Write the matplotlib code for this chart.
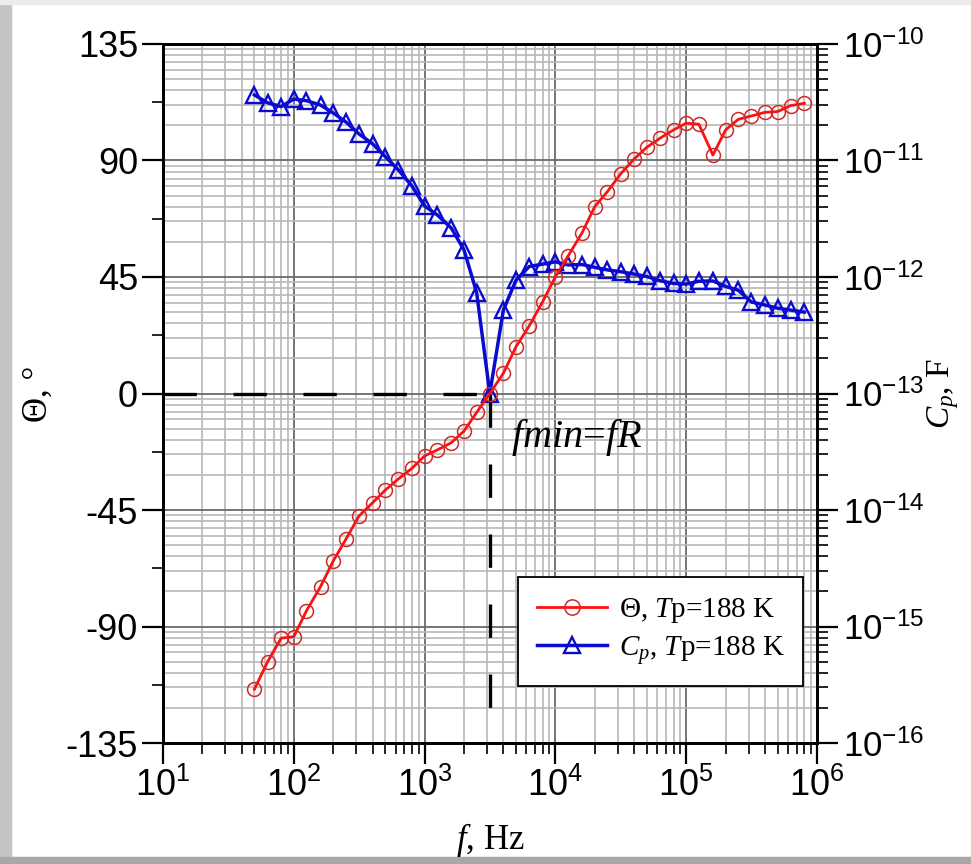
import numpy as np
import matplotlib
matplotlib.use("Agg")
import matplotlib.pyplot as plt
from matplotlib.ticker import LogLocator, MultipleLocator, FixedLocator, NullFormatter, FuncFormatter
from matplotlib.lines import Line2D
from matplotlib.patches import Rectangle

# data
freq = [50, 63, 80, 100, 125, 160, 200, 250, 315, 400, 500, 630, 800,
        1000, 1250, 1600, 2000, 2500, 3150, 4000, 5000, 6300, 8000,
        1e4, 12500, 16000, 20000, 25000, 31500, 40000, 50000, 63000, 80000,
        1e5, 125e3, 160e3, 200e3, 250e3, 315e3, 400e3, 500e3, 630e3, 800e3]
theta = [-114.2, -103.6, -94.5, -93.9, -83.9, -74.6, -64.7, -56.3, -47.3, -42.2,
         -37.3, -33.0, -28.9, -24.1, -21.8, -19.0, -14.5, -7.3, 0.0, 7.8,
         18.1, 26.1, 35.5, 45.1, 53.1, 62.1, 72.2, 78.0, 84.8, 90.6,
         95.1, 98.6, 101.8, 104.4, 104.0, 92.1, 101.8, 105.9, 107.2, 108.6,
         108.9, 111.2, 112.1]
cp = [3.65e-11, 3.13e-11, 2.9e-11, 3.37e-11, 3.26e-11, 2.99e-11, 2.56e-11, 2.14e-11,
      1.69e-11, 1.39e-11, 1.08e-11, 8.3e-12, 6.04e-12, 4.07e-12, 3.41e-12, 2.63e-12,
      1.71e-12, 7.34e-13, 1.0e-13, 5.2e-13, 9.4e-13, 1.23e-12, 1.29e-12, 1.35e-12,
      1.27e-12, 1.28e-12, 1.21e-12, 1.15e-12, 1.11e-12, 1.06e-12, 1.01e-12, 9.3e-13,
      8.8e-13, 8.7e-13, 9.2e-13, 9.25e-13, 8.3e-13, 7.7e-13, 6.1e-13, 5.75e-13,
      5.4e-13, 5.2e-13, 5.0e-13]
f_res = 3150

theta_ticks = [-135, -90, -45, 0, 45, 90, 135]

plt.rcParams['mathtext.fontset'] = 'custom'
plt.rcParams['mathtext.rm'] = 'Liberation Serif'
plt.rcParams['mathtext.it'] = 'Liberation Serif:italic'
plt.rcParams['font.family'] = 'Liberation Sans'
plt.rcParams['axes.unicode_minus'] = False

fig = plt.figure(figsize=(9.71, 8.64), dpi=100)
ax2 = fig.add_axes([0.1679, 0.1400, 0.6735, 0.8091])
ax = ax2.twinx()
# ax (theta, left) drawn on top of ax2 (Cp, right, holds the grid)
ax.yaxis.tick_left()
ax.yaxis.set_label_position('left')
ax2.yaxis.tick_right()
ax2.yaxis.set_label_position('right')
ax.set_zorder(ax2.get_zorder() + 1)
ax.patch.set_visible(False)

ax2.set_xscale('log')
ax2.set_xlim(10, 1e6)
ax2.set_yscale('log')
ax2.set_ylim(1e-16, 1e-10)
ax.set_ylim(-135, 135)

# grid on the bottom axes
ax2.xaxis.set_major_locator(LogLocator(base=10, numticks=10))
ax2.xaxis.set_minor_locator(LogLocator(base=10, subs=np.arange(2, 10), numticks=20))
ax2.yaxis.set_major_locator(LogLocator(base=10, numticks=10))
ax2.yaxis.set_minor_locator(LogLocator(base=10, subs=np.arange(2, 10), numticks=20))
ax2.grid(which='minor', color='#b8b8b8', lw=1.2)
ax2.grid(which='major', color='#6a6a6a', lw=1.3)

fmt = FuncFormatter(lambda v, p: r'$\mathregular{10^{%d}}$' % round(np.log10(v)))
ax2.xaxis.set_major_formatter(fmt)
ax2.yaxis.set_major_formatter(fmt)
ax2.xaxis.set_minor_formatter(NullFormatter())
ax2.yaxis.set_minor_formatter(NullFormatter())
ax.yaxis.set_major_locator(FixedLocator(theta_ticks))
ax.yaxis.set_minor_locator(MultipleLocator(22.5))

for a in (ax, ax2):
    a.tick_params(which='major', direction='out', length=15, width=1.6,
                  labelsize=26, pad=3)
    a.tick_params(which='minor', direction='out', length=8, width=1.2)
    for s in a.spines.values():
        s.set_linewidth(2)
        s.set_color('black')
ax2.tick_params(axis='x', which='both', top=False)
ax.tick_params(axis='x', which='both', bottom=False, top=False, labelbottom=False)
ax2.tick_params(axis='y', which='major', labelsize=25, pad=4)

# curves
ax2.plot(freq, cp, color='#0b0bd0', lw=2.5, marker='^', ms=11, mfc='none',
         mec='#0b0bd0', mew=1.7, zorder=3)
ax.plot([10, f_res], [0, 0], color='black', lw=2.4, dashes=(10, 11), zorder=2)
ax.plot([f_res, f_res], [0, -135], color='black', lw=2.4, dashes=(10, 11), zorder=2)
ax.plot(freq, theta, color='#ff1010', lw=2.0, marker='o', ms=10, mfc='none',
        mec='#d02828', mew=1.1, zorder=3)

serif = 'Liberation Serif'
ax.text(f_res * 1.45, -17, r'$fmin$=$fR$', fontsize=29, family=serif,
        ha='left', va='center')

ax2.set_xlabel(r'$f$, Hz', family=serif, fontsize=25, labelpad=12)
ax.set_ylabel('Θ, °', family=serif, fontsize=25, labelpad=8)
ax2.set_ylabel(r'$C_p$, F', family=serif, fontsize=24, labelpad=0)

handles = [Line2D([], [], color='#ff1010', lw=2.0, marker='o', ms=11, mfc='none',
                  mec='#d02828', mew=1.1),
           Line2D([], [], color='#0b0bd0', lw=2.5, marker='^', ms=11, mfc='none',
                  mec='#0b0bd0', mew=1.7)]
labels = [r'Θ, $T$p=188 K', r'$C_p$, $T$p=188 K']
leg = ax.legend(handles, labels, loc='lower right', bbox_to_anchor=(0.979, 0.082),
                borderaxespad=0, fancybox=False, framealpha=1, edgecolor='black',
                prop=dict(family=serif, size=21), handlelength=2.4,
                handletextpad=0.4, borderpad=0.65, labelspacing=0.3)
leg.get_frame().set_linewidth(1.3)

# grey frame of the screenshot
fig.patches.append(Rectangle((0, 0), 0.011, 1, transform=fig.transFigure,
                             color='#c4c4c4', zorder=-1))
fig.patches.append(Rectangle((0, 0), 1, 0.008, transform=fig.transFigure,
                             color='#a8a8a8', zorder=-1))
fig.patches.append(Rectangle((0, 0.995), 1, 0.005, transform=fig.transFigure,
                             color='#ececec', zorder=-1))

fig.savefig('out.png', dpi=100)
